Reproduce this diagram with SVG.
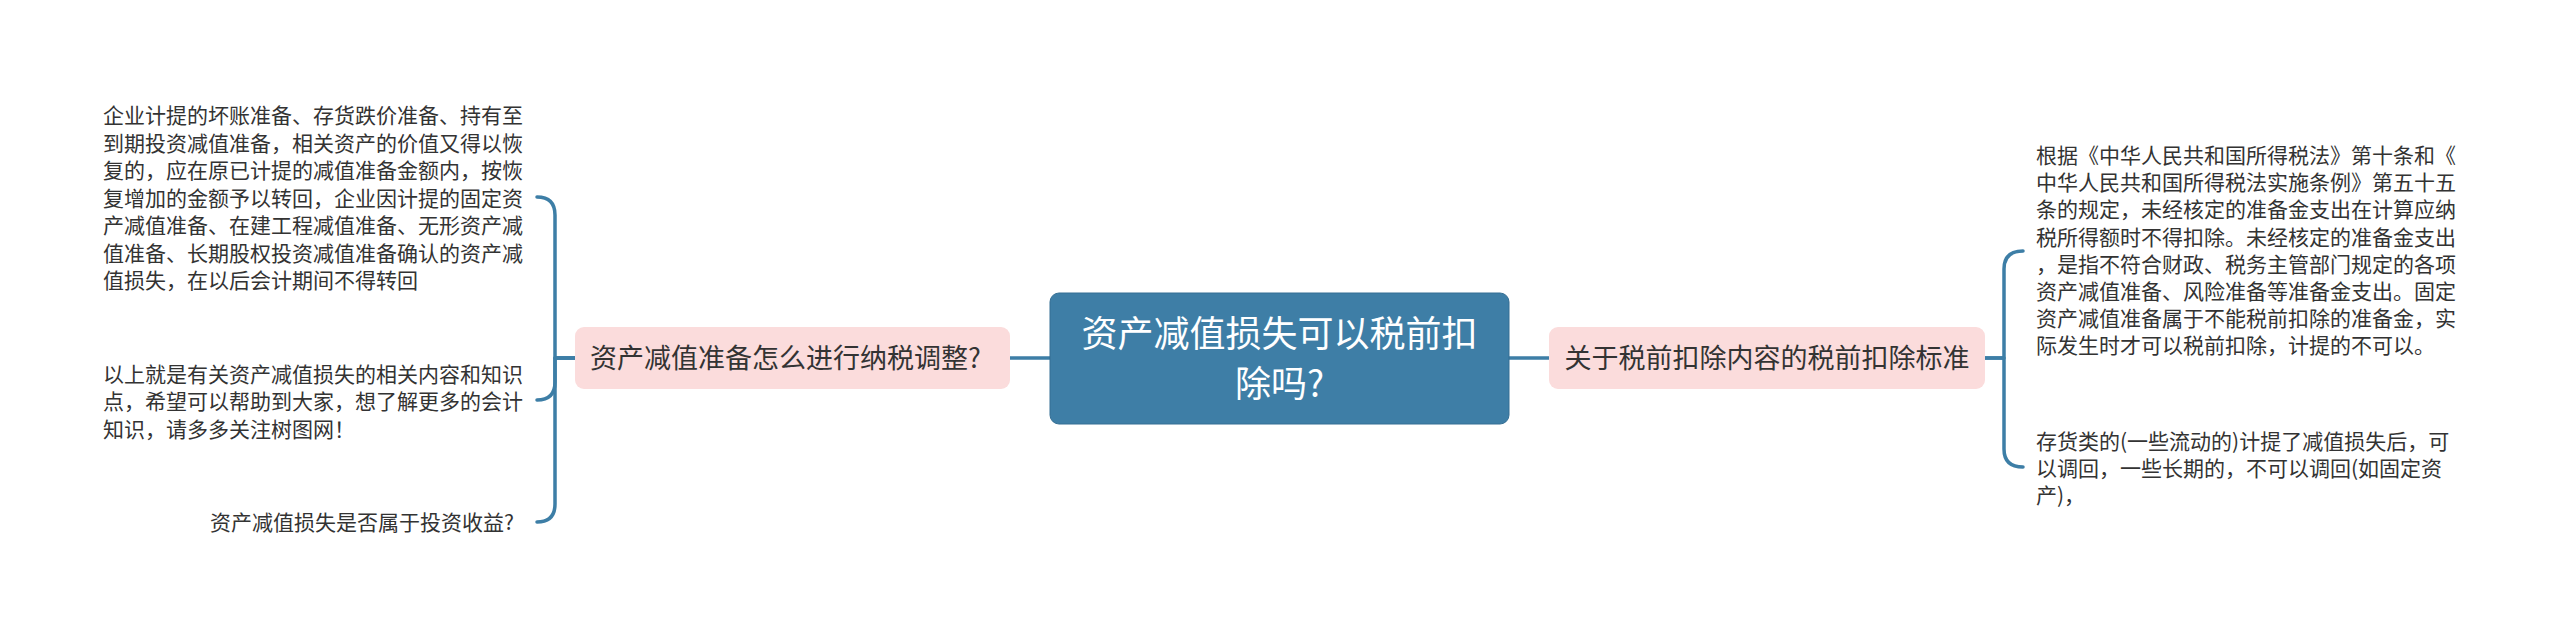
<svg xmlns="http://www.w3.org/2000/svg" width="2560" height="635" viewBox="0 0 2560 635">
<style>
.leaf{font-family:"Noto Sans CJK SC","Liberation Sans",sans-serif;font-size:21px;fill:#333333;}
.sub{font-family:"Noto Sans CJK SC","Liberation Sans",sans-serif;font-size:27px;fill:#333333;}
.root{font-family:"Noto Sans CJK SC","Liberation Sans",sans-serif;font-size:36px;fill:#ffffff;}
.subbox{fill:#fbdcdc;}
.conn{fill:none;stroke:#3d7ea6;stroke-width:3.5;stroke-linecap:round;stroke-linejoin:round;}
</style>
<rect width="2560" height="635" fill="#ffffff"/>
<g id="connectors">
<path class="conn" d="M1050,358 H1010"/>
<path class="conn" d="M1509,358 H1549"/>
<path class="conn" d="M575,358 H555 V215 Q555,197 537,197"/>
<path class="conn" d="M575,358 H555 V382 Q555,400 537,400"/>
<path class="conn" d="M575,358 H555 V504 Q555,522 537,522"/>
<path class="conn" d="M1985,358 H2004 V269 Q2004,251 2023,251"/>
<path class="conn" d="M1985,358 H2004 V449 Q2004,467 2023,467"/>
</g>
<g id="root">
<rect x="1050" y="293" width="459" height="131" rx="9" fill="#3e7ea6" stroke="#356f94" stroke-width="1"/>
<text class="root" x="1279.5" y="347" text-anchor="middle">资产减值损失可以税前扣</text>
<text class="root" x="1279.5" y="397" text-anchor="middle">除吗?</text>
</g>
<g id="left-sub">
<rect class="subbox" x="575" y="327" width="435" height="62" rx="9"/>
<text class="sub" x="590" y="368">资产减值准备怎么进行纳税调整?</text>
</g>
<g id="right-sub">
<rect class="subbox" x="1549" y="327" width="436" height="62" rx="9"/>
<text class="sub" x="1767" y="368" text-anchor="middle">关于税前扣除内容的税前扣除标准</text>
</g>
<g id="left-leaf-1">
<text class="leaf" x="103">
<tspan x="103" y="123">企业计提的坏账准备、存货跌价准备、持有至</tspan>
<tspan x="103" y="150.5">到期投资减值准备，相关资产的价值又得以恢</tspan>
<tspan x="103" y="178">复的，应在原已计提的减值准备金额内，按恢</tspan>
<tspan x="103" y="205.5">复增加的金额予以转回，企业因计提的固定资</tspan>
<tspan x="103" y="233">产减值准备、在建工程减值准备、无形资产减</tspan>
<tspan x="103" y="260.5">值准备、长期股权投资减值准备确认的资产减</tspan>
<tspan x="103" y="288">值损失，在以后会计期间不得转回</tspan>
</text>
</g>
<g id="left-leaf-2">
<text class="leaf" x="103">
<tspan x="103" y="381.5">以上就是有关资产减值损失的相关内容和知识</tspan>
<tspan x="103" y="409">点，希望可以帮助到大家，想了解更多的会计</tspan>
<tspan x="103" y="436.5">知识，请多多关注树图网！</tspan>
</text>
</g>
<g id="left-leaf-3">
<text class="leaf" x="514" y="530" text-anchor="end">资产减值损失是否属于投资收益?</text>
</g>
<g id="right-leaf-1">
<text class="leaf" x="2036">
<tspan x="2036" y="163">根据《中华人民共和国所得税法》第十条和《</tspan>
<tspan x="2036" y="190.2">中华人民共和国所得税法实施条例》第五十五</tspan>
<tspan x="2036" y="217.4">条的规定，未经核定的准备金支出在计算应纳</tspan>
<tspan x="2036" y="244.6">税所得额时不得扣除。未经核定的准备金支出</tspan>
<tspan x="2036" y="271.8">，是指不符合财政、税务主管部门规定的各项</tspan>
<tspan x="2036" y="299">资产减值准备、风险准备等准备金支出。固定</tspan>
<tspan x="2036" y="326.2">资产减值准备属于不能税前扣除的准备金，实</tspan>
<tspan x="2036" y="353.4">际发生时才可以税前扣除，计提的不可以。</tspan>
</text>
</g>
<g id="right-leaf-2">
<text class="leaf" x="2036">
<tspan x="2036" y="449">存货类的(一些流动的)计提了减值损失后，可</tspan>
<tspan x="2036" y="476">以调回，一些长期的，不可以调回(如固定资</tspan>
<tspan x="2036" y="503">产)，</tspan>
</text>
</g>
</svg>
